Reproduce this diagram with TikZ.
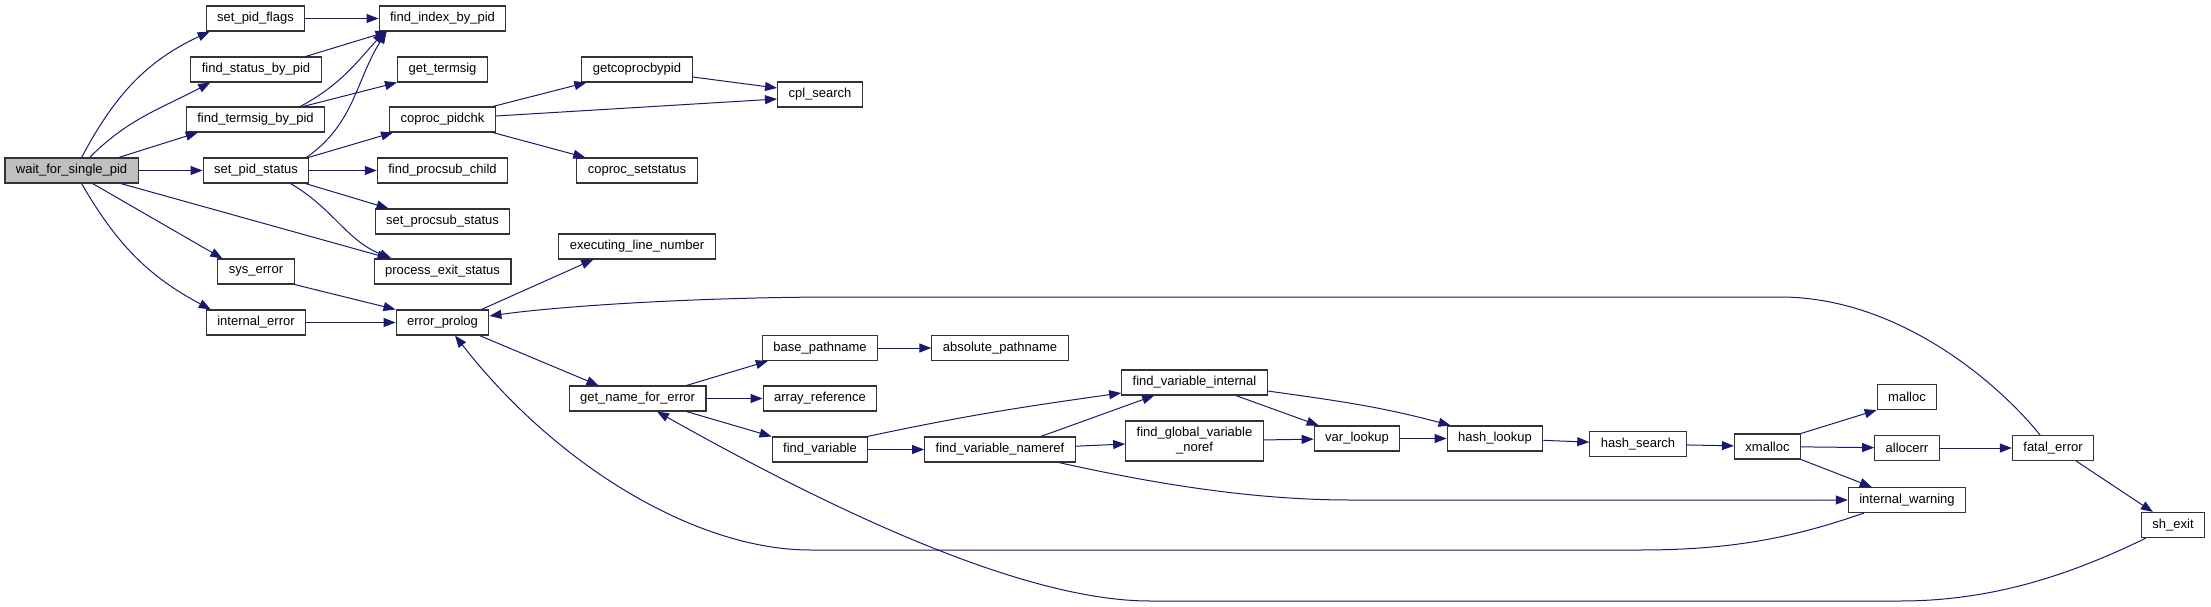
\documentclass[tikz,border=0pt]{standalone}
\usepackage{fontspec}
\setmainfont{Liberation Sans}
\usetikzlibrary{arrows.meta}
\definecolor{callblue}{HTML}{191970}
\definecolor{rootgray}{HTML}{BFBFBF}
\tikzset{
  fn/.style={draw=black!80, line width=1.1pt, fill=white, inner xsep=11pt, inner ysep=0pt,
    minimum height=25pt, font=\fontsize{13}{15}\selectfont},
  root/.style={fn, fill=rootgray},
  call/.style={draw=callblue, line width=1pt, -{Triangle[length=12pt,width=9pt]}}
}
\begin{document}
\begin{tikzpicture}[x=1pt, y=-1pt]
  \useasboundingbox (0,0) rectangle (2211,607);
  % functions
  \node[root] (w) at (71.6,170.5) {wait\_for\_single\_pid};
  \node[fn] (setflags) at (255.5,18.5) {set\_pid\_flags};
  \node[fn] (findindex) at (442.5,18.5) {find\_index\_by\_pid};
  \node[fn] (findstatus) at (256,69.5) {find\_status\_by\_pid};
  \node[fn] (gettermsig) at (442.5,69.5) {get\_termsig};
  \node[fn] (findtermsig) at (255.5,119.5) {find\_termsig\_by\_pid};
  \node[fn] (pidchk) at (442.5,119.5) {coproc\_pidchk};
  \node[fn] (setstatus) at (256,170.5) {set\_pid\_status};
  \node[fn] (procsubchild) at (442.5,170.5) {find\_procsub\_child};
  \node[fn] (setprocsub) at (442.5,221.5) {set\_procsub\_status};
  \node[fn] (exitstatus) at (442.5,271.5) {process\_exit\_status};
  \node[fn] (syserror) at (256,271.5) {sys\_error};
  \node[fn] (interror) at (256,322.5) {internal\_error};
  \node[fn] (prolog) at (442.5,322.5) {error\_prolog};
  \node[fn] (getcoproc) at (637,69.5) {getcoprocbypid};
  \node[fn] (cplsearch) at (820,94.5) {cpl\_search};
  \node[fn] (setstatusco) at (637,170.5) {coproc\_setstatus};
  \node[fn] (execline) at (637,246.5) {executing\_line\_number};
  \node[fn] (getname) at (637.5,398.5) {get\_name\_for\_error};
  \node[fn] (basepath) at (820,348) {base\_pathname};
  \node[fn] (arrayref) at (820,398.5) {array\_reference};
  \node[fn] (findvar) at (820,449.5) {find\_variable};
  \node[fn] (abspath) at (1000,348) {absolute\_pathname};
  \node[fn] (findvarnameref) at (1000,449.5) {find\_variable\_nameref};
  \node[fn] (findvarint) at (1194.5,382.5) {find\_variable\_internal};
  \node[fn, minimum height=40pt, align=center] (findglobal) at (1194.5,441) {find\_global\_variable\\\_noref};
  \node[fn] (varlookup) at (1357,438.5) {var\_lookup};
  \node[fn] (hashlookup) at (1495,438.5) {hash\_lookup};
  \node[fn] (hashsearch) at (1638,444) {hash\_search};
  \node[fn] (xmalloc) at (1767.5,446.5) {xmalloc};
  \node[fn] (malloc) at (1907,397) {malloc};
  \node[fn] (allocerr) at (1907,448) {allocerr};
  \node[fn] (intwarn) at (1907,500) {internal\_warning};
  \node[fn] (fatalerr) at (2053,448) {fatal\_error};
  \node[fn] (shexit) at (2173,525) {sh\_exit};

  % calls out of wait_for_single_pid
  \draw[call] ([xshift=10pt]w.north) to[out=62,in=205] ([xshift=4pt]setflags.south west);
  \draw[call] ([xshift=18pt]w.north) to[out=45,in=208] ([xshift=20pt]findstatus.south west);
  \draw[call] ([xshift=-20pt]w.north east) -- ([xshift=12pt]findtermsig.south west);
  \draw[call] (w) -- (setstatus);
  \draw[call] ([xshift=-18pt]w.south east) -- ([xshift=16pt]exitstatus.north west);
  \draw[call] ([xshift=21pt]w.south) -- ([xshift=5pt]syserror.north west);
  \draw[call] ([xshift=10pt]w.south) to[out=-60,in=152] ([xshift=5pt]interror.north west);

  % pid lookups
  \draw[call] (setflags) -- (findindex);
  \draw[call] ([xshift=-16pt]findstatus.north east) -- ([xshift=9pt]findindex.south west);
  \draw[call] ([xshift=-25pt]findtermsig.north east) to[out=28,in=228] ([xshift=6pt]findindex.south west);
  \draw[call] ([xshift=-22pt]findtermsig.north east) -- (gettermsig.south west);
  \draw[call] ([xshift=-3pt]setstatus.north east) to[out=35,in=238] ([xshift=8pt]findindex.south west);
  \draw[call] ([xshift=-1pt]setstatus.north east) -- ([xshift=4pt]pidchk.south west);
  \draw[call] (setstatus) -- (procsubchild);
  \draw[call] ([xshift=-4pt]setstatus.south east) -- ([xshift=14pt]setprocsub.north west);
  \draw[call] ([xshift=-19pt]setstatus.south east) to[out=-30,in=158] ([xshift=18pt]exitstatus.north west);

  % coprocs
  \draw[call] ([xshift=-3pt]pidchk.north east) -- ([xshift=5pt]getcoproc.south west);
  \draw[call] ([yshift=3.5pt]pidchk.east) -- ([yshift=-4.5pt]cplsearch.west);
  \draw[call] ([xshift=-3pt]pidchk.south east) -- ([xshift=9pt]setstatusco.north west);
  \draw[call] ([yshift=-7.5pt]getcoproc.east) -- ([yshift=6.5pt]cplsearch.west);

  % error reporting
  \draw[call] (syserror.south east) -- (prolog.north west);
  \draw[call] (interror) -- (prolog);
  \draw[call] ([xshift=-8pt]prolog.north east) -- ([xshift=35pt]execline.south west);
  \draw[call] ([xshift=-10pt]prolog.south east) -- ([xshift=30pt]getname.north west);
  \draw[call] ([xshift=-20pt]getname.north east) -- ([xshift=6pt]basepath.south west);
  \draw[call] (getname) -- (arrayref);
  \draw[call] ([xshift=-20pt]getname.south east) -- (findvar.north west);
  \draw[call] (basepath) -- (abspath);

  % variable lookup
  \draw[call] ([xshift=-1pt]findvar.north east) to[out=12,in=188] ([yshift=-10.5pt]findvarint.west);
  \draw[call] (findvar) -- (findvarnameref);
  \draw[call] ([xshift=-35pt]findvarnameref.north east) -- ([xshift=33pt]findvarint.south west);
  \draw[call] (findvarnameref) -- (findglobal);
  \draw[call] ([xshift=-17pt]findvarnameref.south east) .. controls +(90,20) and (1250,500) .. (1350,500) -- (intwarn.west);
  \draw[call] ([xshift=-32pt]findvarint.south east) -- ([xshift=5pt]varlookup.north west);
  \draw[call] ([yshift=-8.5pt]findvarint.east) to[out=-8,in=165] ([xshift=4pt]hashlookup.north west);
  \draw[call] (findglobal) -- (varlookup);
  \draw[call] (varlookup) -- (hashlookup);
  \draw[call] (hashlookup) -- (hashsearch);
  \draw[call] (hashsearch) -- (xmalloc);

  % allocation
  \draw[call] (xmalloc.north east) -- (malloc.south west);
  \draw[call] (xmalloc) -- (allocerr);
  \draw[call] (xmalloc.south east) -- ([xshift=24pt]intwarn.north west);
  \draw[call] (allocerr) -- (fatalerr);
  \draw[call] ([xshift=-18pt]fatalerr.south east) -- ([xshift=12pt]shexit.north west);

  % calls back to the left
  \draw[call] ([xshift=-13pt]fatalerr.north) .. controls (2000,385) and (1900,297) .. (1780,297)
    -- (840,297) .. controls (700,297) and (560,306) .. ([yshift=6.5pt]prolog.east);
  \draw[call] ([xshift=-43pt]intwarn.south) .. controls (1800,535) and (1740,550) .. (1640,550)
    -- (810,550) .. controls (700,550) and (560,470) .. ([xshift=12.5pt]prolog.south);
  \draw[call] ([xshift=-27pt]shexit.south) .. controls (2080,570) and (2000,601) .. (1900,601)
    -- (1150,601) .. controls (1030,601) and (850,520) .. ([xshift=19.5pt]getname.south);
\end{tikzpicture}
\end{document}
